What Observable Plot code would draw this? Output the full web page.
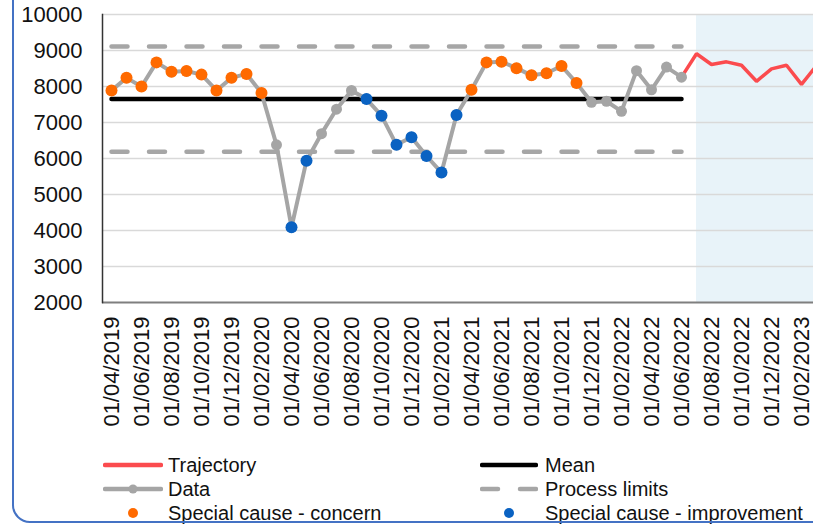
<!DOCTYPE html>
<html>
<head>
<meta charset="utf-8">
<script src="https://cdn.jsdelivr.net/npm/d3@7"></script>
<script src="https://cdn.jsdelivr.net/npm/@observablehq/plot@0.6"></script>
<style>
  body { margin: 0; background: #fff; font-family: "Liberation Sans", Arial, sans-serif; }
  #wrap { position: relative; width: 813px; height: 527px; overflow: hidden; background: #fff; }
  #chart { position: absolute; left: 0; top: 0; }
  #border { position: absolute; left: 12px; top: -30px; width: 900px; height: 553px; box-sizing: border-box;
            border: 2px solid #4472c4; border-radius: 18px; pointer-events: none; }
  #legend { position: absolute; left: 0; top: 453px; width: 813px; height: 70px; font-size: 20px; color: #111; }
  .item { position: absolute; display: flex; align-items: center; height: 24px; white-space: nowrap; }
  .item svg { display: block; }
  .item span { line-height: 24px; }
</style>
</head>
<body>
<div id="wrap">
  <div id="chart"></div>
  <div id="legend"></div>
  <div id="border"></div>
</div>
<script>
// Monthly categories (Excel-style category axis, one slot per month)
const months = [
  "01/04/2019","01/05/2019","01/06/2019","01/07/2019","01/08/2019","01/09/2019","01/10/2019","01/11/2019","01/12/2019",
  "01/01/2020","01/02/2020","01/03/2020","01/04/2020","01/05/2020","01/06/2020","01/07/2020","01/08/2020","01/09/2020",
  "01/10/2020","01/11/2020","01/12/2020","01/01/2021","01/02/2021","01/03/2021","01/04/2021","01/05/2021","01/06/2021",
  "01/07/2021","01/08/2021","01/09/2021","01/10/2021","01/11/2021","01/12/2021","01/01/2022","01/02/2022","01/03/2022",
  "01/04/2022","01/05/2022","01/06/2022","01/07/2022","01/08/2022","01/09/2022","01/10/2022","01/11/2022","01/12/2022",
  "01/01/2023","01/02/2023","01/03/2023"
];

// Labelled months on the x axis (every second month)
const xTickLabels = [
  "01/04/2019","01/06/2019","01/08/2019","01/10/2019","01/12/2019","01/02/2020","01/04/2020","01/06/2020",
  "01/08/2020","01/10/2020","01/12/2020","01/02/2021","01/04/2021","01/06/2021","01/08/2021","01/10/2021",
  "01/12/2021","01/02/2022","01/04/2022","01/06/2022","01/08/2022","01/10/2022","01/12/2022","01/02/2023"
];

const yTicks = [2000, 3000, 4000, 5000, 6000, 7000, 8000, 9000, 10000];

// Observed monthly values, Apr 2019 – Jun 2022
const dataValues = [
  7890, 8240, 8000, 8670, 8410, 8430, 8330, 7890, 8240,
  8350, 7820, 6380, 4090, 5940, 6690, 7370, 7890, 7650,
  7190, 6380, 6590, 6070, 5610, 7210, 7910, 8670, 8690,
  8510, 8310, 8370, 8570, 8100, 7560, 7590, 7310, 8440,
  7910, 8540, 8260
];

// SPC flag for each observed point: C = special cause (concern), I = special cause (improvement)
const dataFlags = [
  "C","C","C","C","C","C","C","C","C",
  "C","C","", "I","I","", "", "", "I",
  "I","I","I","I","I","I","C","C","C",
  "C","C","C","C","C","", "", "", "",
  "", "", ""
];

// Centre line and process limits
const meanValue = 7650;
const upperLimit = 9110;
const lowerLimit = 6190;

// Trajectory, Jun 2022 – Mar 2023
const trajectoryMonths = [
  "01/06/2022","01/07/2022","01/08/2022","01/09/2022","01/10/2022","01/11/2022","01/12/2022","01/01/2023","01/02/2023","01/03/2023"
];
const trajectoryValues = [8260, 8910, 8610, 8685, 8590, 8145, 8490, 8590, 8060, 8580];

// Forecast period (shaded)
const forecastMonths = [
  "01/07/2022","01/08/2022","01/09/2022","01/10/2022","01/11/2022","01/12/2022","01/01/2023","01/02/2023","01/03/2023"
];

const colors = {
  data: "#a5a5a5",
  limits: "#a6a6a6",
  mean: "#000000",
  trajectory: "#fb4b4e",
  concern: "#ff6a00",
  improvement: "#0a62c2",
  shade: "#e8f3f9",
  grid: "#d9d9d9"
};

const observed = dataValues.map((v, i) => ({month: months[i], value: v, flag: dataFlags[i]}));
const periodMonths = observed.map(d => d.month);
const trajectory = trajectoryMonths.map((m, i) => ({month: m, value: trajectoryValues[i]}));

const chart = Plot.plot({
  width: 813,
  height: 440,
  marginLeft: 102,
  marginRight: 0,
  marginTop: 14,
  marginBottom: 138,
  style: {fontFamily: "'Liberation Sans', Arial, sans-serif", color: "#111", background: "transparent"},
  x: {type: "point", domain: months, range: [110, 817], padding: 0, label: null},
  y: {domain: [2000, 10000], label: null},
  marks: [
    Plot.areaY(forecastMonths, {x: d => d, y1: () => 2000, y2: () => 10000, fill: colors.shade}),
    Plot.ruleY(yTicks.filter(t => t > 2000), {stroke: colors.grid, strokeWidth: 1.5}),
    Plot.line(periodMonths, {x: d => d, y: () => upperLimit, stroke: colors.limits, strokeWidth: 4.5,
      strokeDasharray: "16,21.5", strokeLinecap: "round"}),
    Plot.line(periodMonths, {x: d => d, y: () => lowerLimit, stroke: colors.limits, strokeWidth: 4.5,
      strokeDasharray: "16,21.5", strokeLinecap: "round"}),
    Plot.line(periodMonths, {x: d => d, y: () => meanValue, stroke: colors.mean, strokeWidth: 4.5, strokeLinecap: "round"}),
    Plot.line(trajectory, {x: "month", y: "value", stroke: colors.trajectory, strokeWidth: 3.5, strokeLinejoin: "miter"}),
    Plot.line(observed, {x: "month", y: "value", stroke: colors.data, strokeWidth: 4}),
    Plot.dot(observed, {x: "month", y: "value", r: 5.5, fill: colors.data}),
    Plot.dot(observed.filter(d => d.flag === "C"), {x: "month", y: "value", r: 6, fill: colors.concern}),
    Plot.dot(observed.filter(d => d.flag === "I"), {x: "month", y: "value", r: 6, fill: colors.improvement}),
    Plot.ruleY([2000], {stroke: "#7f7f7f", strokeWidth: 2}),
    Plot.frame({anchor: "left", stroke: "#333", strokeWidth: 1.5}),
    Plot.axisY({ticks: yTicks, tickSize: 0, tickPadding: 20, fontSize: 22, tickFormat: d3.format("d"), label: null}),
    Plot.axisX({ticks: xTickLabels, tickSize: 0, tickPadding: 14, tickRotate: -90, fontSize: 22, label: null})
  ]
});
document.getElementById("chart").appendChild(chart);

// Legend: two columns of three entries
const legendItems = [
  {label: "Trajectory", left: 103, top: 0, w: 60,
   svg: `<line x1="2" y1="12" x2="58" y2="12" stroke="${colors.trajectory}" stroke-width="4.5" stroke-linecap="round"/>`},
  {label: "Data", left: 103, top: 24, w: 60,
   svg: `<line x1="2" y1="12" x2="58" y2="12" stroke="${colors.data}" stroke-width="4.5" stroke-linecap="round"/>
         <circle cx="30" cy="12" r="4.5" fill="${colors.data}"/>`},
  {label: "Special cause - concern", left: 103, top: 47.5, w: 60,
   svg: `<circle cx="30" cy="12" r="5" fill="${colors.concern}"/>`},
  {label: "Mean", left: 480, top: 0, w: 58,
   svg: `<line x1="2" y1="12" x2="56" y2="12" stroke="${colors.mean}" stroke-width="4.5" stroke-linecap="round"/>`},
  {label: "Process limits", left: 480, top: 24, w: 58,
   svg: `<line x1="2" y1="12" x2="18" y2="12" stroke="${colors.limits}" stroke-width="4.5" stroke-linecap="round"/>
         <line x1="40" y1="12" x2="56" y2="12" stroke="${colors.limits}" stroke-width="4.5" stroke-linecap="round"/>`},
  {label: "Special cause - improvement", left: 480, top: 47.5, w: 58,
   svg: `<circle cx="29" cy="12" r="5" fill="${colors.improvement}"/>`}
];
const legend = document.getElementById("legend");
for (const it of legendItems) {
  const el = document.createElement("div");
  el.className = "item";
  el.style.left = it.left + "px";
  el.style.top = it.top + "px";
  el.innerHTML = `<svg width="${it.w}" height="24">${it.svg}</svg><span style="margin-left:${it.w === 60 ? 5 : 7}px">${it.label}</span>`;
  legend.appendChild(el);
}
</script>
</body>
</html>
